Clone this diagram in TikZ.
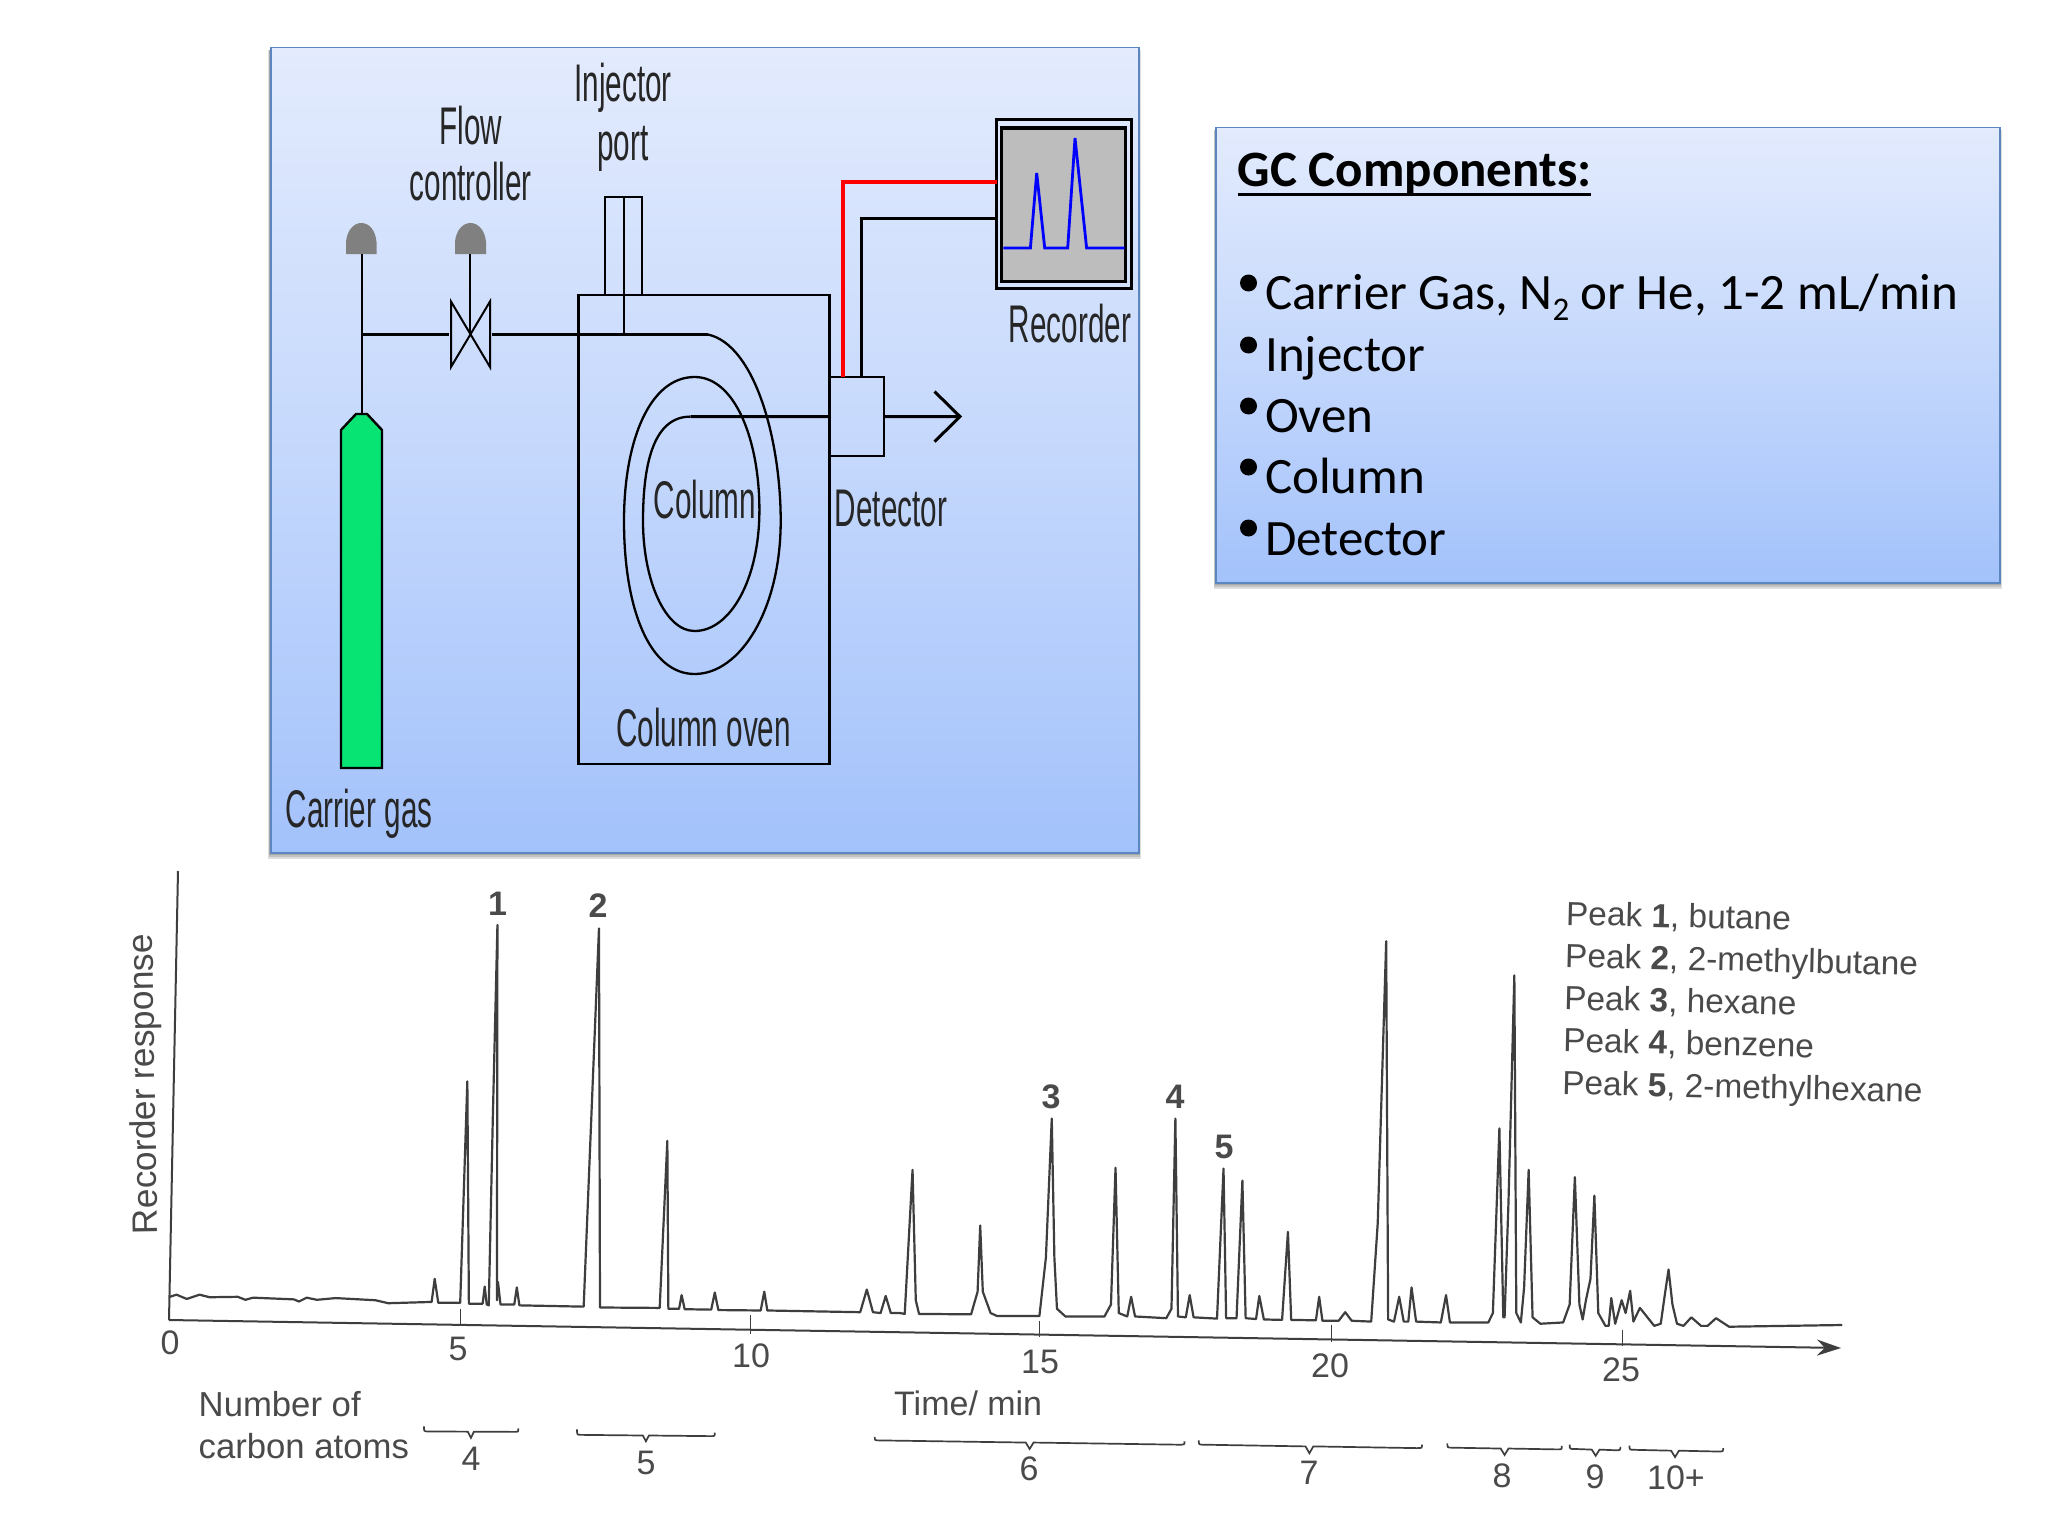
\documentclass[tikz,border=0pt]{standalone}
\usepackage{fontspec}
\setmainfont{Liberation Sans}
\newfontfamily\narrowf[FakeStretch=0.56]{Liberation Sans}
\newfontfamily\calib{Carlito}
\usetikzlibrary{arrows.meta}
\definecolor{panelborder}{HTML}{5B86C0}
\definecolor{paneltop}{HTML}{E3EBFD}
\definecolor{panelmid}{HTML}{C5D8FC}
\definecolor{panelbot}{HTML}{A3C2FB}
\definecolor{gasgreen}{HTML}{08E474}
\definecolor{capgrey}{HTML}{808080}
\definecolor{screengrey}{HTML}{BDBDBD}
\definecolor{ink}{HTML}{3E3E3E}
\definecolor{inktext}{HTML}{4A4A4A}
\tikzset{
  panelbox/.style={draw=panelborder,line width=1.6pt,top color=paneltop,bottom color=panelbot,middle color=panelmid},
  panelshadow/.style={fill=black,opacity=0.13,draw=none},
  wire/.style={draw=black,line width=2pt},
  thickwire/.style={draw=black,line width=3pt},
  boxnode/.style={draw=black,line width=2.4pt,inner sep=0pt,outer sep=0pt},
  narrowlabel/.style={font=\narrowf\fontsize{53}{57}\selectfont,text=black!85,inner sep=0pt},
  listtext/.style={font=\calib\fontsize{51}{57}\selectfont,anchor=base west,inner sep=0pt,text=black},
  listbullet/.style={circle,fill=black,minimum size=17pt,inner sep=0pt},
  axisline/.style={draw=ink,line width=2pt},
  traceline/.style={draw=ink,line width=2.2pt,line join=round,line cap=round},
  tickline/.style={draw=ink,line width=1pt},
  bracestyle/.style={draw=ink,line width=1.7pt},
  chartlabel/.style={font=\fontsize{34}{42.3}\selectfont,text=inktext,inner sep=0pt},
  peaklabel/.style={font=\bfseries\fontsize{34}{38}\selectfont,text=inktext,inner sep=0pt}
}
\newcommand{\gcbrace}[7]{\draw[bracestyle] (#1,#2) .. controls (#1,#3) .. (#1+8,#3) -- (#4-6,#3+#7/2) -- (#4,#5) -- (#4+6,#3+#7/2) -- (#6-8,#3+#7) .. controls (#6,#3+#7) .. (#6,#3+#7-8);}
\begin{document}
\begin{tikzpicture}[x=1pt,y=-1pt]
\useasboundingbox (0,0) rectangle (2048,1536);
\fill[white] (0,0) rectangle (2048,1536);

% ---- shadows
\foreach \d in {2,4,6}{
  \fill[panelshadow] (270-\d/3,50) rectangle (1139+\d/3,853+\d);
  \fill[panelshadow] (1215.7-\d/3,130) rectangle (2000+\d/3,583+\d);
}

% ---- instrument panel
\path[panelbox] (271,47.5) rectangle (1139,853);

% cylinder
\coordinate (cyltop) at (361.6,414);
\coordinate (capone) at (361.6,254);
\coordinate (captwo) at (470,254);
\coordinate (tee) at (361.6,334.5);
\coordinate (bend) at (708,334.5);
\coordinate (valve) at (470,334.5);
\draw[draw=black,line width=2.4pt,fill=gasgreen] (341,768) -- (341,430) -- (356,414) -- (367,414) -- (382,430) -- (382,768) -- cycle;
\fill[capgrey] (346,254) -- (346,242) .. controls (347,230) and (354,223) .. (361.3,223) .. controls (369,223) and (375.5,230) .. (376.5,242) -- (376.5,254) -- cycle;
\fill[capgrey] (455,254) -- (455,242) .. controls (456,230) and (463,223) .. (470.5,223) .. controls (478,223) and (485,230) .. (486,242) -- (486,254) -- cycle;
\draw[wire] (capone) -- (cyltop);
\draw[wire] (captwo) -- (valve);
\draw[wire] (451,301.5) -- (451,367) -- (490,301.5) -- (490,367) -- cycle;

% oven, injector, detector, recorder
\node[boxnode,minimum width=251pt,minimum height=469pt] (oven) at (704,529.5) {};
\node[boxnode,minimum width=37pt,minimum height=98pt] (injector) at (623.5,246) {};
\node[boxnode,minimum width=54.5pt,minimum height=79pt] (detector) at (856.75,416.5) {};
\node[draw=black,line width=2.6pt,fill=none,inner sep=0pt,outer sep=0pt,minimum width=135pt,minimum height=169pt] (recorder) at (1064,204) {};
\node[draw=black,line width=3.4pt,fill=screengrey,inner sep=0pt,outer sep=0pt,minimum width=124pt,minimum height=153.5pt] (screen) at (1063.7,204.8) {};

% gas line
\draw[thickwire] (tee) -- (449,334.5);
\draw[thickwire] (492,334.5) -- (bend);
\draw[wire] (injector.north) -- (623.5,334.5);

% column
\draw[draw=black,line width=2.3pt] (bend)
  .. controls (755,345) and (780.7,440) .. (780.7,521)
  .. controls (780.7,610) and (740,674) .. (694.6,674)
  .. controls (650,674) and (624,610) .. (624,521)
  .. controls (624,440) and (650,377) .. (694.6,377)
  .. controls (735,377) and (759.4,440) .. (759.4,510)
  .. controls (759.4,580) and (730,631) .. (694.6,631)
  .. controls (665,631) and (643,580) .. (643,521)
  .. controls (643,460) and (655,416.6) .. (690.5,416.6);
\draw[thickwire] (690.5,416.6) -- (detector.west);

% outlet
\coordinate (outtip) at (960,416.6);
\draw[thickwire] (detector.east) -- (outtip);
\draw[thickwire] (934.5,391.5) -- (outtip) -- (934.5,441.7);

% signal lines
\draw[draw=red,line width=3.2pt] (843,377) |- (recorder.west |- 0,182);
\draw[thickwire] (861,377) |- (recorder.west |- 0,218);

% screen trace
\draw[draw=blue,line width=2.8pt] (1003.4,248) -- (1030.4,248) -- (1036.7,173) -- (1044.7,248) -- (1067.7,248) -- (1075,138) -- (1086.6,248) -- (1124.5,248);

% labels
\node[narrowlabel,font=\narrowf\fontsize{53}{59}\selectfont,align=center] (lblinj) at (623,117) {Injector\\port};
\node[narrowlabel,font=\narrowf\fontsize{53}{56}\selectfont,align=center] (lblflow) at (470.7,154) {Flow\\controller};
\node[narrowlabel,anchor=base] (lblrec) at (1070,342) {Recorder};
\node[narrowlabel,anchor=base] (lbldet) at (891,526) {Detector};
\node[narrowlabel,anchor=base] (lblcol) at (705,518.6) {Column};
\node[narrowlabel,anchor=base] (lbloven) at (703.5,746) {Column oven};
\node[narrowlabel,anchor=base] (lblgas) at (359,827) {Carrier gas};

% ---- component panel
\path[panelbox] (1215.7,127.5) rectangle (2000,583);
\node[listtext,font=\calib\bfseries\fontsize{51}{57}\selectfont] (gchead) at (1237.7,186.5) {GC Components:};
\draw[line width=3pt] (1237.7,194) -- (1591,194);
\node[listbullet] (b1) at (1248.5,283) {};
\node[listbullet] (b2) at (1248.5,345) {};
\node[listbullet] (b3) at (1248.5,406) {};
\node[listbullet] (b4) at (1248.5,467) {};
\node[listbullet] (b5) at (1248.5,528) {};
\node[listtext] (i1) at (1265,309.5) {Carrier Gas, N\raisebox{-0.22em}{\fontsize{33}{33}\selectfont 2} or He, 1-2 mL/min};
\node[listtext] (i2) at (1265,371.5) {Injector};
\node[listtext] (i3) at (1265,432.5) {Oven};
\node[listtext] (i4) at (1265,493.5) {Column};
\node[listtext] (i5) at (1265,555.5) {Detector};

% ---- chromatogram axes
\coordinate (origin) at (169,1320);
\coordinate (ytop) at (178,871);
\coordinate (xend) at (1841,1348);
\draw[axisline] (origin) -- (ytop);
\draw[axisline,-{Stealth[length=24pt,width=16pt]}] (origin) -- (xend);
\draw[tickline] (460,1309) -- (460,1326);
\draw[tickline] (750.5,1315) -- (750.5,1333.5);
\draw[tickline] (1039,1320.7) -- (1039,1336.5);
\draw[tickline] (1331.5,1325) -- (1331.5,1342);
\draw[tickline] (1622,1330) -- (1622,1346);

% ---- trace
\begin{scope}[shift={(100,860)},x=0.5102pt,y=-0.4274pt]
\draw[traceline] (137,1022) -- (150,1017) -- (170,1027) -- (195,1017) -- (215,1023) -- (270,1022) -- (285,1029) -- (300,1024) -- (380,1028) -- (390,1033) -- (405,1024) -- (425,1029) -- (462,1025) -- (540,1030) -- (565,1037) -- (650,1034) -- (656,980) -- (663,1036) -- (706,1036) -- (720,518) -- (723,1038) -- (750,1038) -- (754,998) -- (758,1040) -- (762,1042) -- (770,600) -- (779,152) -- (778,1030) -- (780,987) -- (785,1040) -- (812,1040) -- (817,1000) -- (822,1042) -- (948,1045) -- (978,160) -- (980,1047) -- (1097,1048) -- (1112,657) -- (1114,1050) -- (1135,1050) -- (1140,1018) -- (1146,1051) -- (1198,1052) -- (1205,1012) -- (1212,1053) -- (1295,1054) -- (1302,1010) -- (1308,1054) -- (1490,1058) -- (1503,1005) -- (1515,1058) -- (1530,1060) -- (1540,1020) -- (1550,1060) -- (1568,1060);
\gcbrace{635}{1325}{1337}{727}{1352}{820}{1}
\gcbrace{935}{1332}{1345}{1070}{1360}{1205}{3}
\end{scope}
\begin{scope}[shift={(880,860)},x=0.6506pt,y=-0.4274pt]
\draw[traceline] (30.7,1060) -- (38,1062) -- (50,725) -- (55,1030) -- (60,1062) -- (140,1063) -- (150,1010) -- (154,855) -- (158,1010) -- (170,1060) -- (180,1067) -- (245,1067) -- (255,930) -- (264,605) -- (268,930) -- (272,1050) -- (285,1068) -- (345,1068) -- (355,1040) -- (362,720) -- (367,1060) -- (380,1068) -- (386,1022) -- (392,1068) -- (440,1072) -- (448,1050) -- (454,605) -- (458,1068) -- (470,1070) -- (476,1018) -- (482,1070) -- (518,1073) -- (528,722) -- (532,1072) -- (548,1072) -- (557,750) -- (562,1072) -- (578,1074) -- (583,1020) -- (590,1075) -- (618,1076) -- (627,870) -- (632,1076) -- (670,1077) -- (675,1022) -- (680,1078) -- (705,1078) -- (715,1058) -- (725,1078) -- (755,1080) -- (765,850) -- (778,190) -- (781,1075) -- (790,1080) -- (798,1022) -- (805,1080) -- (812,1080) -- (817,1000) -- (824,1080) -- (862,1082) -- (870,1018) -- (876,1082) -- (935,1082) -- (942,1060) -- (952,628) -- (958,1070) -- (960,1070) -- (966,800) -- (975,270) -- (978,1060) -- (985,1082) -- (990,1000) -- (997,725) -- (1003,1070) -- (1015,1085) -- (1050,1082) -- (1060,1040) -- (1068,742) -- (1075,1040) -- (1080,1075) -- (1085,1030) -- (1092,980) -- (1098,785) -- (1104,1060) -- (1115,1090) -- (1120,1090) -- (1124,1025) -- (1130,1085) -- (1140,1030) -- (1146,1060) -- (1153,1008) -- (1158,1080) -- (1168,1048) -- (1190,1090) -- (1200,1085) -- (1206,1020) -- (1212,958) -- (1218,1040) -- (1225,1085) -- (1235,1090) -- (1247,1070) -- (1262,1090) -- (1272,1090) -- (1285,1072) -- (1305,1092) -- (1478,1088);
\gcbrace{-8}{1350}{1358}{230}{1378}{468}{10}
\gcbrace{490}{1358}{1368}{660}{1388}{833}{8}
\gcbrace{872}{1365}{1375}{960}{1392}{1048}{4}
\gcbrace{1060}{1368}{1378}{1100}{1394}{1138}{3}
\gcbrace{1152}{1370}{1380}{1222}{1397}{1296}{4}
\end{scope}

% ---- chart labels
\node[chartlabel,font=\fontsize{35.3}{42}\selectfont,rotate=91,anchor=base] (yaxis) at (155,1084) {Recorder response};
\node[chartlabel] (n0) at (170,1343) {0};
\node[chartlabel] (n5) at (458,1349) {5};
\node[chartlabel] (n10) at (751,1356) {10};
\node[chartlabel] (n15) at (1040,1362) {15};
\node[chartlabel] (n20) at (1330,1366) {20};
\node[chartlabel] (n25) at (1621,1370) {25};
\node[peaklabel] (p1) at (497.5,904) {1};
\node[peaklabel] (p2) at (598,906) {2};
\node[peaklabel] (p3) at (1051,1097) {3};
\node[peaklabel] (p4) at (1175,1097) {4};
\node[peaklabel] (p5) at (1224,1147) {5};
\node[chartlabel,font=\fontsize{33.4}{42.3}\selectfont,align=left,anchor=west,rotate=-1.3] (legend) at (1564,1001) {Peak \textbf{1}, butane\\Peak \textbf{2}, 2-methylbutane\\Peak \textbf{3}, hexane\\Peak \textbf{4}, benzene\\Peak \textbf{5}, 2-methylhexane};
\node[chartlabel,font=\fontsize{34.7}{42.5}\selectfont,align=left,anchor=west] (carbons) at (198.5,1425) {Number of\\carbon atoms};
\node[chartlabel,font=\fontsize{34}{40}\selectfont,anchor=base west] (timelbl) at (894,1415.5) {Time/ min};
\node[chartlabel] (c4) at (471,1459) {4};
\node[chartlabel] (c5) at (646,1463) {5};
\node[chartlabel] (c6) at (1029,1469) {6};
\node[chartlabel] (c7) at (1309,1473) {7};
\node[chartlabel] (c8) at (1502,1476) {8};
\node[chartlabel] (c9) at (1595,1477) {9};
\node[chartlabel] (c10) at (1676,1478) {10+};
\end{tikzpicture}
\end{document}
